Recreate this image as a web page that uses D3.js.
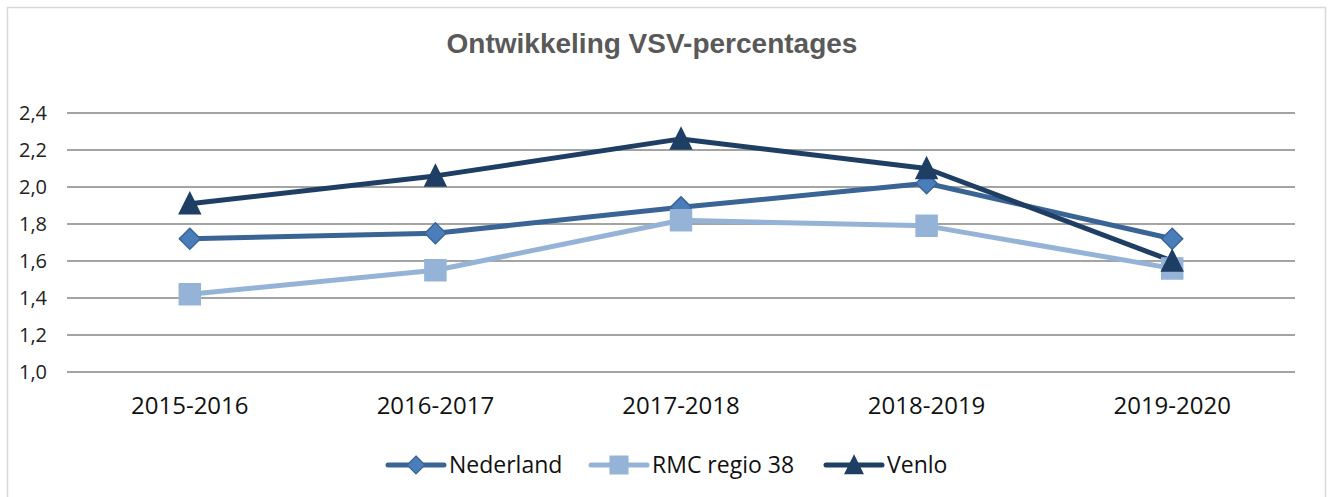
<!DOCTYPE html>
<html>
<head>
<meta charset="utf-8">
<script src="https://cdn.jsdelivr.net/npm/d3@7"></script>
<style>
  body { margin: 0; background: #fff; }
</style>
</head>
<body>
<svg width="1330" height="497"></svg>
<script>
var categories = ["2015-2016", "2016-2017", "2017-2018", "2018-2019", "2019-2020"];
var nederland = [1.72, 1.75, 1.89, 2.02, 1.72];
var rmc = [1.42, 1.55, 1.82, 1.79, 1.56];
var venlo = [1.91, 2.06, 2.26, 2.10, 1.60];
var yTicks = [1.0, 1.2, 1.4, 1.6, 1.8, 2.0, 2.2, 2.4];

var series = [
    { name: "Nederland", values: nederland, line: "#3a6496", fill: "#4a7ebb", stroke: "#3a6496", symbol: "diamond" },
    { name: "RMC regio 38", values: rmc, line: "#95b3d7", fill: "#95b3d7", stroke: "#95b3d7", symbol: "square" },
    { name: "Venlo", values: venlo, line: "#1f3e64", fill: "#1f3e64", stroke: "#1f3e64", symbol: "triangle" }
];

var marge = { top: 113, bottom: 125, left: 67, right: 35 };
var svg = d3.select("svg");
var width = +svg.attr("width");
var height = +svg.attr("height");

// outer frame
svg.append("rect")
    .attr("x", 7.5).attr("y", 7.5)
    .attr("width", 1318).attr("height", 500)
    .attr("fill", "none").attr("stroke", "#d9d9d9").attr("stroke-width", 1.5);

svg.append("text")
    .attr("x", 652).attr("y", 53)
    .attr("text-anchor", "middle")
    .style("font-family", "'Liberation Sans', Arial, sans-serif")
    .style("font-weight", "bold")
    .style("font-size", "28px")
    .attr("fill", "#595959")
    .text("Ontwikkeling VSV-percentages");

var x = d3.scaleBand().domain(categories).range([marge.left, width - marge.right]);
var y = d3.scaleLinear().domain([1.0, 2.4]).range([height - marge.bottom, marge.top]);

var g = svg.append("g");

// grid + y labels
g.selectAll(".grid").data(yTicks).enter().append("line")
    .attr("x1", marge.left).attr("x2", width - marge.right)
    .attr("y1", function (d) { return y(d); }).attr("y2", function (d) { return y(d); })
    .attr("stroke", "#868686").attr("stroke-width", 1.5);

g.selectAll(".ylab").data(yTicks).enter().append("text")
    .attr("x", 47).attr("y", function (d) { return y(d); })
    .attr("dy", "0.36em")
    .attr("text-anchor", "end")
    .style("font-family", "'Open Sans', Calibri, sans-serif")
    .style("font-size", "20px")
    .attr("fill", "#222")
    .text(function (d) { return d.toFixed(1).replace(".", ","); });

g.selectAll(".xlab").data(categories).enter().append("text")
    .attr("x", function (d) { return x(d) + x.bandwidth() / 2; })
    .attr("y", 414)
    .attr("text-anchor", "middle")
    .style("font-family", "'Open Sans', Calibri, sans-serif")
    .style("font-size", "24px")
    .attr("fill", "#111")
    .text(function (d) { return d; });

// marker shapes (centred on the data point)
var markerPath = {
    diamond: "M0,-10.5L10.5,0L0,10.5L-10.5,0Z",
    square: "M-10.5,-10.5H10.5V10.5H-10.5Z",
    triangle: "M0,-11L10.5,10L-10.5,10Z"
};

function cx(i) { return x(categories[i]) + x.bandwidth() / 2; }

var line = d3.line()
    .x(function (d, i) { return cx(i); })
    .y(function (d) { return y(d); });

series.forEach(function (s) {
    g.append("path")
        .datum(s.values)
        .attr("d", line)
        .attr("fill", "none")
        .attr("stroke", s.line)
        .attr("stroke-width", 5)
        .attr("stroke-linejoin", "round");
});

series.forEach(function (s) {
    g.selectAll(null).data(s.values).enter().append("path")
        .attr("transform", function (d, i) { return "translate(" + cx(i) + "," + y(d) + ")"; })
        .attr("d", markerPath[s.symbol])
        .attr("fill", s.fill)
        .attr("stroke", s.stroke)
        .attr("stroke-width", 1.5);
});

// legend
var legendX = [388, 591, 826];
var legend = svg.append("g");
series.forEach(function (s, i) {
    var lg = legend.append("g").attr("transform", "translate(" + legendX[i] + ",465)");
    lg.append("line").attr("x1", 0).attr("x2", 56).attr("y1", 0).attr("y2", 0)
        .attr("stroke", s.line).attr("stroke-width", 5).attr("stroke-linecap", "round");
    lg.append("path")
        .attr("transform", "translate(28,0) scale(0.85)")
        .attr("d", markerPath[s.symbol])
        .attr("fill", s.fill).attr("stroke", s.stroke).attr("stroke-width", 1.5);
    lg.append("text")
        .attr("x", 61).attr("y", 0).attr("dy", "0.36em")
        .style("font-family", "'Open Sans', Calibri, sans-serif")
        .style("font-size", "23px")
        .attr("fill", "#111")
        .text(s.name);
});
</script>
</body>
</html>
